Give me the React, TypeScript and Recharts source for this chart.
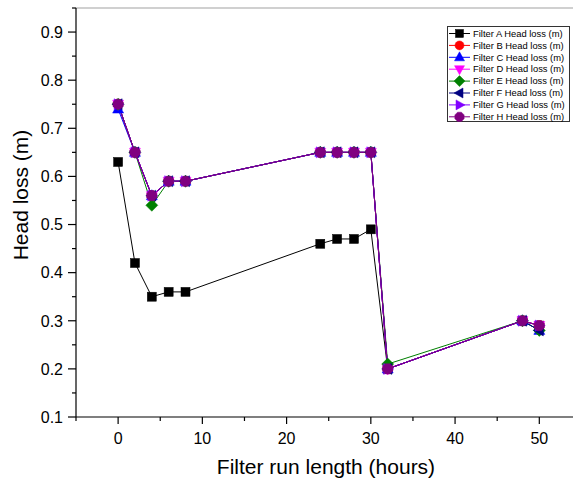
import React from "react";
import { LineChart, Line, XAxis, YAxis, Legend, ReferenceLine, Label } from "recharts";

const times = [0, 2, 4, 6, 8, 24, 26, 28, 30, 32, 48, 50];
const filterA = [0.63, 0.42, 0.35, 0.36, 0.36, 0.46, 0.47, 0.47, 0.49, 0.2, 0.3, 0.29];
const filterB = [0.75, 0.65, 0.56, 0.59, 0.59, 0.65, 0.65, 0.65, 0.65, 0.2, 0.3, 0.29];
const filterC = [0.74, 0.65, 0.56, 0.59, 0.59, 0.65, 0.65, 0.65, 0.65, 0.2, 0.3, 0.28];
const filterD = [0.75, 0.65, 0.56, 0.59, 0.59, 0.65, 0.65, 0.65, 0.65, 0.2, 0.3, 0.29];
const filterE = [0.75, 0.65, 0.54, 0.59, 0.59, 0.65, 0.65, 0.65, 0.65, 0.21, 0.3, 0.28];
const filterF = [0.75, 0.65, 0.56, 0.59, 0.59, 0.65, 0.65, 0.65, 0.65, 0.2, 0.3, 0.28];
const filterG = [0.75, 0.65, 0.56, 0.59, 0.59, 0.65, 0.65, 0.65, 0.65, 0.2, 0.3, 0.29];
const filterH = [0.75, 0.65, 0.56, 0.59, 0.59, 0.65, 0.65, 0.65, 0.65, 0.2, 0.3, 0.29];

const seriesNames = [
  "Filter A Head loss (m)",
  "Filter B Head loss (m)",
  "Filter C Head loss (m)",
  "Filter D Head loss (m)",
  "Filter E Head loss (m)",
  "Filter F Head loss (m)",
  "Filter G Head loss (m)",
  "Filter H Head loss (m)",
];
const seriesValues = [filterA, filterB, filterC, filterD, filterE, filterF, filterG, filterH];
const seriesColors = ["#000000", "#FF0000", "#0000FF", "#FF00FF", "#008000", "#000080", "#8000FF", "#800080"];
const seriesShapes = ["square", "circle", "up", "down", "diamond", "left", "right", "hexagon"];

const xTicks = [-5, 0, 5, 10, 15, 20, 25, 30, 35, 40, 45, 50];
const xMajor = [0, 10, 20, 30, 40, 50];
const yTicks = [0.1, 0.15, 0.2, 0.25, 0.3, 0.35, 0.4, 0.45, 0.5, 0.55, 0.6, 0.65, 0.7, 0.75, 0.8, 0.85, 0.9, 0.95];
const yMajor = [0.1, 0.2, 0.3, 0.4, 0.5, 0.6, 0.7, 0.8, 0.9];

const FONT = '"Liberation Sans", Arial, sans-serif';

function Marker({ shape, cx, cy, color, r = 5 }: any) {
  if (cx == null || cy == null) return null;
  const common = { fill: color, stroke: color, strokeWidth: 0.5 };
  switch (shape) {
    case "square":
      return <rect x={cx - r + 0.5} y={cy - r + 0.5} width={2 * r - 1} height={2 * r - 1} {...common} />;
    case "circle":
      return <circle cx={cx} cy={cy} r={r} {...common} />;
    case "up":
      return <polygon points={`${cx},${cy - r - 1} ${cx + r + 0.5},${cy + r - 1} ${cx - r - 0.5},${cy + r - 1}`} {...common} />;
    case "down":
      return <polygon points={`${cx},${cy + r + 1} ${cx + r + 0.5},${cy - r + 1} ${cx - r - 0.5},${cy - r + 1}`} {...common} />;
    case "diamond":
      return <polygon points={`${cx},${cy - r - 1} ${cx + r + 1},${cy} ${cx},${cy + r + 1} ${cx - r - 1},${cy}`} {...common} />;
    case "left":
      return <polygon points={`${cx - r - 1},${cy} ${cx + r - 1},${cy - r - 0.5} ${cx + r - 1},${cy + r + 0.5}`} {...common} />;
    case "right":
      return <polygon points={`${cx + r + 1},${cy} ${cx - r + 1},${cy - r - 0.5} ${cx - r + 1},${cy + r + 0.5}`} {...common} />;
    case "hexagon": {
      const pts: string[] = [];
      for (let i = 0; i < 8; i++) {
        const a = (Math.PI / 4) * i + Math.PI / 8;
        pts.push(`${cx + (r + 0.5) * Math.cos(a)},${cy + (r + 0.5) * Math.sin(a)}`);
      }
      return <polygon points={pts.join(" ")} {...common} />;
    }
    default:
      return null;
  }
}

function XTick(props: any) {
  const { x, y, payload } = props;
  const v = payload.value;
  const major = xMajor.includes(v);
  return (
    <g>
      <line x1={x} y1={y} x2={x} y2={y + (major ? 7 : 4)} stroke="#000" strokeWidth={1.2} />
      {major && (
        <text x={x} y={y + 27} textAnchor="middle" fontSize={16} fontFamily={FONT} fill="#000">
          {v}
        </text>
      )}
    </g>
  );
}

function YTick(props: any) {
  const { x, y, payload } = props;
  const v = Math.round(payload.value * 100) / 100;
  const major = yMajor.some((m) => Math.abs(m - v) < 1e-6);
  return (
    <g>
      <line x1={x} y1={y} x2={x - (major ? 8 : 4)} y2={y} stroke="#000" strokeWidth={1.2} />
      {major && (
        <text x={x - 13} y={y} dy="0.36em" textAnchor="end" fontSize={16} fontFamily={FONT} fill="#000">
          {v.toFixed(1)}
        </text>
      )}
    </g>
  );
}

function LegendBox() {
  return (
    <svg width={124} height={98} style={{ display: "block" }}>
      <rect x={0.5} y={0.5} width={122} height={95} fill="#fff" stroke="#333" strokeWidth={1} />
      {seriesNames.map((name, i) => {
        const cy = 7.5 + i * 11.9;
        return (
          <g key={name}>
            <line x1={2} y1={cy} x2={23} y2={cy} stroke={seriesColors[i]} strokeWidth={1} />
            <Marker shape={seriesShapes[i]} cx={12.5} cy={cy} color={seriesColors[i]} r={4.5} />
            <text x={26} y={cy} dy="0.35em" fontSize={9.4} fontFamily={FONT} fill="#000">
              {name}
            </text>
          </g>
        );
      })}
    </svg>
  );
}

export default function App() {
  const seriesData = seriesValues.map((vals) => vals.map((y, i) => ({ x: times[i], y })));
  return (
    <div style={{ position: "absolute", left: 0, top: 0, width: 573, height: 483, background: "#fff" }}>
      <LineChart width={573} height={483} margin={{ top: 8, right: 0, bottom: 6, left: 6 }}>
        <XAxis
          dataKey="x"
          type="number"
          domain={[-5, 54]}
          ticks={xTicks}
          interval={0}
          allowDataOverflow
          tickSize={0}
          tickMargin={0}
          tick={<XTick />}
          axisLine={{ stroke: "#000", strokeWidth: 1.2 }}
          tickLine={false}
          height={60}
        >
          <Label
            content={() => (
              <text x={326} y={467} dy="0.35em" textAnchor="middle" fontSize={21} fontFamily={FONT} fill="#000">
                Filter run length (hours)
              </text>
            )}
          />
        </XAxis>
        <YAxis
          type="number"
          domain={[0.1, 0.95]}
          ticks={yTicks}
          interval={0}
          allowDataOverflow
          tickSize={0}
          tickMargin={0}
          tick={<YTick />}
          axisLine={{ stroke: "#000", strokeWidth: 1.2 }}
          tickLine={false}
          width={70}
        >
          <Label
            content={() => (
              <text
                x={21}
                y={195}
                dy="0.35em"
                textAnchor="middle"
                fontSize={21}
                fontFamily={FONT}
                fill="#000"
                transform={`rotate(-90 21 195)`}
              >
                Head loss (m)
              </text>
            )}
          />
        </YAxis>
        <ReferenceLine y={0.95} stroke="#c0c0c0" strokeWidth={1.5} />
        <Legend
          layout="vertical"
          align="center"
          verticalAlign="middle"
          wrapperStyle={{ left: 447, top: 26, width: 124, height: 98 }}
          content={() => <LegendBox />}
        />
        {seriesData.map((d, i) => (
          <Line
            key={seriesNames[i]}
            data={d}
            dataKey="y"
            name={seriesNames[i]}
            stroke={seriesColors[i]}
            strokeWidth={1}
            isAnimationActive={false}
            dot={(p: any) => <Marker key={`${i}-${p.index}`} shape={seriesShapes[i]} cx={p.cx} cy={p.cy} color={seriesColors[i]} r={5} />}
            activeDot={false}
          />
        ))}
      </LineChart>
    </div>
  );
}
